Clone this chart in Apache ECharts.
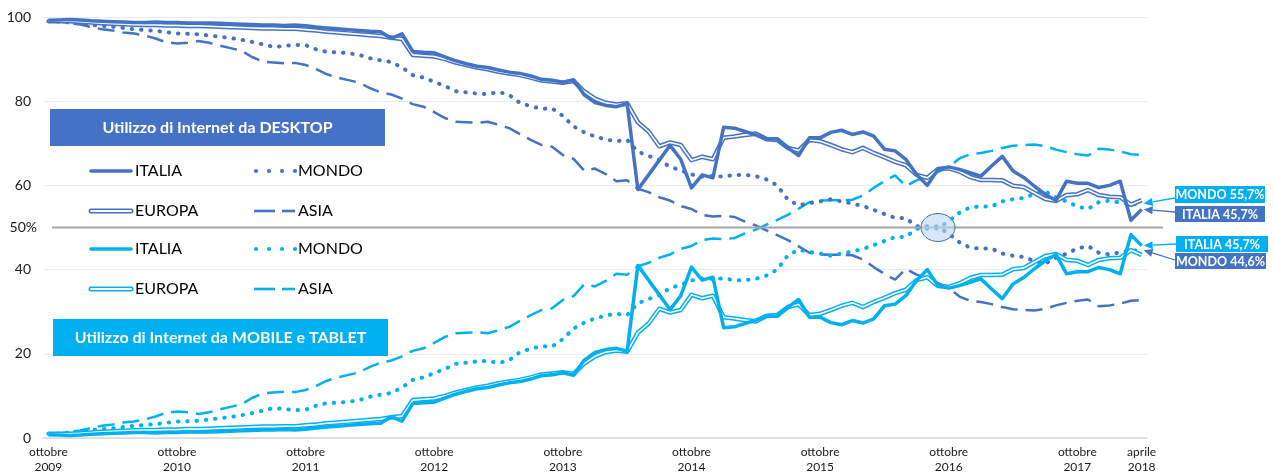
<!DOCTYPE html>
<html>
<head>
<meta charset="utf-8">
<script src="https://cdn.jsdelivr.net/npm/echarts@6/dist/echarts.min.js"></script>
<style>
html,body{margin:0;padding:0;background:#fff;}
#c{width:1273px;height:475px;}
</style>
</head>
<body>
<div id="c"></div>
<script>
// ---- categories (monthly, ottobre 2009 .. aprile 2018) ----
const monthNames = ['ottobre','novembre','dicembre','gennaio','febbraio','marzo','aprile','maggio','giugno','luglio','agosto','settembre'];
const categories = [];
for (let i = 0; i < 103; i++) {
  categories.push(monthNames[i % 12] + ' ' + (2009 + Math.floor((i + 9) / 12)));
}
const yTickLabels = [0, 20, 40, 60, 80, 100];
const midLabel = '50%';

// ---- DESKTOP share (%) ----
const desktopItalia = [99.2,99.3,99.4,99.3,99.1,99.0,98.9,98.8,98.7,98.7, 98.8,98.7,98.7,98.6,98.6,98.6,98.5,98.4,98.3,98.2, 98.1,98.1,98.0,98.1,97.9,97.6,97.4,97.2,97.0,96.8, 96.6,96.5,94.9,96.0,91.8,91.6,91.5,90.5,89.6,88.9, 88.3,88.0,87.4,86.9,86.6,86.0,85.2,85.0,84.5,85.1, 81.5,79.7,79.0,78.7,79.4,59.0,62.5,66.0,69.5,66.2, 59.4,62.5,61.8,73.8,73.6,72.8,72.0,71.0,71.1,68.9, 67.1,71.3,71.3,72.6,73.1,72.1,72.7,71.7,68.6,68.2, 66.2,62.6,60.0,63.8,64.4,63.8,63.0,62.2,64.6,66.9, 63.4,61.9,59.8,57.9,56.4,61.0,60.5,60.5,59.5,60.0, 61.0,51.7,54.3];
const desktopEuropa = [99.0,99.0,99.0,98.9,98.7,98.5,98.4,98.3,98.2,98.1, 98.1,98.0,98.0,97.9,97.9,97.8,97.7,97.6,97.5,97.4, 97.3,97.3,97.2,97.2,97.0,96.8,96.5,96.3,96.1,95.9, 95.7,95.5,95.1,94.8,91.0,90.8,90.6,90.0,89.2,88.6, 88.0,87.6,87.0,86.6,86.2,85.6,84.9,84.7,84.4,84.8, 82.3,80.6,79.6,79.2,79.5,75.0,72.8,69.3,70.2,69.6, 66.0,66.8,66.2,71.3,71.6,72.0,72.3,71.0,70.8,68.9, 68.3,70.8,70.5,69.6,68.6,67.9,68.9,67.7,66.7,65.6, 64.8,62.5,61.8,63.9,64.1,63.3,62.0,61.3,61.3,61.2, 59.9,59.6,58.2,56.8,56.3,57.7,57.9,58.9,57.7,57.3, 57.2,55.4,56.5];
const desktopMondo = [99.0,98.9,98.7,98.4,98.1,97.9,97.7,97.4,97.1,96.9, 96.7,96.4,96.1,96.0,95.9,95.6,95.3,95.0,94.6,94.1, 93.5,92.9,93.1,93.4,93.3,92.3,91.7,91.6,91.4,91.0, 90.2,89.7,89.3,88.0,86.2,85.6,84.6,83.6,82.4,82.1, 81.8,81.7,82.2,81.5,79.6,78.8,78.2,78.3,76.5,74.0, 72.6,71.6,70.9,70.5,70.8,68.0,67.0,66.0,64.4,63.6, 62.6,62.1,62.2,62.1,62.5,62.5,62.2,61.4,60.0,56.6, 55.3,55.8,56.2,56.7,56.2,55.7,55.1,54.2,53.2,52.3, 52.2,50.3,50.3,50.2,48.5,46.5,45.2,45.0,45.0,43.8, 43.3,43.0,42.0,41.4,42.8,43.8,45.0,45.6,44.0,43.6, 44.1,44.5,44.6];
const desktopAsia = [99.0,98.9,98.6,98.2,97.6,97.1,96.8,96.3,96.1,95.6, 94.9,94.0,93.7,93.9,94.3,93.9,93.2,92.6,92.0,90.5, 89.4,89.2,89.0,89.1,88.6,87.6,86.4,85.6,85.0,84.4, 83.1,82.1,81.6,80.6,79.3,78.7,77.4,76.0,75.1,75.0, 74.9,75.1,74.4,73.6,72.2,70.8,69.6,69.2,67.2,66.3, 63.5,64.0,62.7,61.0,61.2,59.2,58.4,57.2,56.4,55.1, 54.4,53.0,52.6,52.8,52.5,51.4,50.5,49.3,48.2,47.0, 45.5,44.0,43.6,43.5,43.5,43.4,42.4,40.6,39.0,37.6, 40.2,38.8,38.0,36.8,35.7,33.6,32.6,32.3,31.8,31.1, 30.6,30.4,30.3,30.7,31.5,32.1,32.6,32.9,31.3,31.5, 31.9,32.6,32.8];

// ---- MOBILE e TABLET share (%) ----
const mobileItalia = [0.8,0.7,0.6,0.7,0.9,1.0,1.1,1.2,1.3,1.3, 1.2,1.3,1.3,1.4,1.4,1.4,1.5,1.6,1.7,1.8, 1.9,1.9,2.0,1.9,2.1,2.4,2.6,2.8,3.0,3.2, 3.4,3.5,5.1,4.0,8.2,8.4,8.5,9.5,10.4,11.1, 11.7,12.0,12.6,13.1,13.4,14.0,14.8,15.0,15.5,14.9, 18.5,20.3,21.0,21.3,20.6,41.0,37.5,34.0,30.5,33.8, 40.6,37.5,38.2,26.2,26.4,27.2,28.0,29.0,28.9,31.1, 32.9,28.7,28.7,27.4,26.9,27.9,27.3,28.3,31.4,31.8, 33.8,37.4,40.0,36.2,35.6,36.2,37.0,37.8,35.4,33.1, 36.6,38.1,40.2,42.1,43.6,39.0,39.5,39.5,40.5,40.0, 39.0,48.3,45.7];
const mobileEuropa = [1.0,1.0,1.0,1.1,1.3,1.5,1.6,1.7,1.8,1.9, 1.9,2.0,2.0,2.1,2.1,2.2,2.3,2.4,2.5,2.6, 2.7,2.7,2.8,2.8,3.0,3.2,3.5,3.7,3.9,4.1, 4.3,4.5,4.9,5.2,9.0,9.2,9.4,10.0,10.8,11.4, 12.0,12.4,13.0,13.4,13.8,14.4,15.1,15.3,15.6,15.2, 17.7,19.4,20.4,20.8,20.5,25.0,27.2,30.7,29.8,30.4, 34.0,33.2,33.8,28.7,28.4,28.0,27.7,29.0,29.2,31.1, 31.7,29.2,29.5,30.4,31.4,32.1,31.1,32.3,33.3,34.4, 35.2,37.5,38.2,36.1,35.9,36.7,38.0,38.7,38.7,38.8, 40.1,40.4,41.8,43.2,43.7,42.3,42.1,41.1,42.3,42.7, 42.8,44.6,43.5];
const mobileMondo = [1.0,1.1,1.3,1.6,1.9,2.1,2.3,2.6,2.9,3.1, 3.3,3.6,3.9,4.0,4.1,4.4,4.7,5.0,5.4,5.9, 6.5,7.1,6.9,6.6,6.7,7.7,8.3,8.4,8.6,9.0, 9.8,10.3,10.7,12.0,13.8,14.4,15.4,16.4,17.6,17.9, 18.2,18.3,17.8,18.5,20.4,21.2,21.8,21.7,23.5,26.0, 27.4,28.4,29.1,29.5,29.2,32.0,33.0,34.0,35.6,36.4, 37.4,37.9,37.8,37.9,37.5,37.5,37.8,38.6,40.0,43.4, 44.7,44.2,43.8,43.3,43.8,44.3,44.9,45.8,46.8,47.7, 47.8,49.7,49.7,49.8,51.5,53.5,54.8,55.0,55.0,56.2, 56.7,57.0,58.0,58.6,57.2,56.2,55.0,54.4,56.0,56.4, 55.9,55.5,55.7];
const mobileAsia = [1.0,1.1,1.4,1.8,2.4,2.9,3.2,3.7,3.9,4.4, 5.1,6.0,6.3,6.1,5.7,6.1,6.8,7.4,8.0,9.5, 10.6,10.8,11.0,10.9,11.4,12.4,13.6,14.4,15.0,15.6, 16.9,17.9,18.4,19.4,20.7,21.3,22.6,24.0,24.9,25.0, 25.1,24.9,25.6,26.4,27.8,29.2,30.4,30.8,32.8,33.7, 36.5,36.0,37.3,39.0,38.8,40.8,41.6,42.8,43.6,44.9, 45.6,47.0,47.4,47.2,47.5,48.6,49.5,50.7,51.8,53.0, 54.5,56.0,56.4,56.5,56.5,56.6,57.6,59.4,61.0,62.4, 59.8,61.2,62.0,63.2,64.3,66.4,67.4,67.7,68.2,68.9, 69.4,69.6,69.7,69.3,68.5,67.9,67.4,67.1,68.7,68.5, 68.1,67.4,67.2];

// ---- texts ----
const titleDesktop = 'Utilizzo di Internet da DESKTOP';
const titleMobile = 'Utilizzo di Internet da MOBILE e TABLET';
const calloutTexts = ['MONDO 55,7%', 'ITALIA 45,7%', 'ITALIA 45,7%', 'MONDO 44,6%'];

const DESK = '#4472C4', MOB = '#00B0F0';
const FONT = 'Lato, "Open Sans", sans-serif';

function solid(name, data, color) {
  return { name, type: 'line', data, symbol: 'none', silent: true,
    lineStyle: { color, width: 3.5, join: 'round' } };
}
function dotted(name, data, color) {
  return { name, type: 'line', data, symbol: 'none', silent: true,
    lineStyle: { color, width: 4, type: [0.5, 8.8], cap: 'round' } };
}
function dashed(name, data, color) {
  return { name, type: 'line', data, symbol: 'none', silent: true,
    lineStyle: { color, width: 2.5, type: [17, 8] } };
}
function dbl(name, data, color) {
  return [
    { name, type: 'line', data, symbol: 'none', silent: true,
      lineStyle: { color, width: 4.6, join: 'round' } },
    { name: name + ' inner', type: 'line', data, symbol: 'none', silent: true,
      lineStyle: { color: '#ffffff', width: 1.6, join: 'round' } }
  ];
}

const option = {
  animation: false,
  backgroundColor: '#fff',
  grid: { left: 43, right: 126, top: 17, bottom: 37, containLabel: false },
  xAxis: {
    type: 'category', data: categories, boundaryGap: true,
    axisTick: { show: false },
    axisLine: { lineStyle: { color: '#d9d9d9', width: 1.5 } },
    axisLabel: {
      interval: (idx) => idx % 12 === 0 || idx === categories.length - 1,
      formatter: (v) => v.replace(' ', '\n'),
      fontSize: 12, lineHeight: 15, color: '#1a1a1a', margin: 7, fontFamily: FONT
    },
    splitLine: { show: false }
  },
  yAxis: {
    type: 'value', min: 0, max: 100, interval: 20,
    axisLine: { show: false }, axisTick: { show: false },
    axisLabel: { fontSize: 14, color: '#1a1a1a', margin: 12, fontFamily: FONT,
      formatter: (v) => yTickLabels.indexOf(v) >= 0 ? String(v) : '' },
    splitLine: { lineStyle: { color: '#ebebeb', width: 1 } }
  },
  series: [
    dashed('ASIA desktop', desktopAsia, DESK),
    dashed('ASIA mobile', mobileAsia, MOB),
    dotted('MONDO desktop', desktopMondo, DESK),
    dotted('MONDO mobile', mobileMondo, MOB),
    ...dbl('EUROPA desktop', desktopEuropa, DESK),
    ...dbl('EUROPA mobile', mobileEuropa, MOB),
    solid('ITALIA desktop', desktopItalia, DESK),
    solid('ITALIA mobile', mobileItalia, MOB)
  ]
};

const chart = echarts.init(document.getElementById('c'), null, { renderer: 'canvas' });
chart.setOption(option);

const px = (i, v) => chart.convertToPixel({ gridIndex: 0 }, [i, v]);
const last = categories.length - 1;
const g = [];

// 50% reference line and label
const y50 = px(0, 50)[1];
g.push({ type: 'line', z: 5, shape: { x1: 52, y1: y50, x2: 1163, y2: y50 },
  style: { stroke: '#a6a6a6', lineWidth: 2 } });
g.push({ type: 'text', z: 5, x: 37, y: y50,
  style: { text: midLabel, font: '14px ' + FONT, fill: '#1a1a1a', align: 'right', verticalAlign: 'middle' } });

// title boxes
function titleBox(x, y, w, h, fill, text) {
  g.push({ type: 'rect', z: 20, shape: { x, y, width: w, height: h }, style: { fill } });
  g.push({ type: 'text', z: 21, x: x + w / 2, y: y + h / 2,
    style: { text, font: 'bold 16px ' + FONT, fill: '#fff', align: 'center', verticalAlign: 'middle' } });
}
titleBox(50, 109, 335, 37, DESK, titleDesktop);
titleBox(53, 319, 335, 37, MOB, titleMobile);

// custom legend
function sample(kind, x1, x2, y, color) {
  if (kind === 'solid') {
    g.push({ type: 'line', z: 20, shape: { x1, y1: y, x2, y2: y }, style: { stroke: color, lineWidth: 3.6, lineCap: 'round' } });
  } else if (kind === 'double') {
    g.push({ type: 'line', z: 20, shape: { x1, y1: y, x2, y2: y }, style: { stroke: color, lineWidth: 5, lineCap: 'round' } });
    g.push({ type: 'line', z: 21, shape: { x1, y1: y, x2, y2: y }, style: { stroke: '#fff', lineWidth: 1.8, lineCap: 'round' } });
  } else if (kind === 'dot') {
    for (let k = 0; k < 4; k++) {
      g.push({ type: 'circle', z: 20, shape: { cx: x1 + 2 + k * 13, cy: y, r: 2.1 }, style: { fill: color } });
    }
  } else if (kind === 'dash') {
    g.push({ type: 'line', z: 20, shape: { x1, y1: y, x2: x1 + 21, y2: y }, style: { stroke: color, lineWidth: 2.6 } });
    g.push({ type: 'line', z: 20, shape: { x1: x1 + 28, y1: y, x2: x2, y2: y }, style: { stroke: color, lineWidth: 2.6 } });
  }
}
const legendRows = [
  { y: 171, color: DESK, a: ['ITALIA', 'solid'], b: ['MONDO', 'dot'] },
  { y: 211, color: DESK, a: ['EUROPA', 'double'], b: ['ASIA', 'dash'] },
  { y: 249, color: MOB, a: ['ITALIA', 'solid'], b: ['MONDO', 'dot'] },
  { y: 289, color: MOB, a: ['EUROPA', 'double'], b: ['ASIA', 'dash'] }
];
legendRows.forEach(r => {
  sample(r.a[1], 91, 131, r.y, r.color);
  g.push({ type: 'text', z: 20, x: 135, y: r.y,
    style: { text: r.a[0], font: '16px ' + FONT, fill: '#000', align: 'left', verticalAlign: 'middle' } });
  sample(r.b[1], 254, 295, r.y, r.color);
  g.push({ type: 'text', z: 20, x: 298, y: r.y,
    style: { text: r.b[0], font: '16px ' + FONT, fill: '#000', align: 'left', verticalAlign: 'middle' } });
});

// ellipse around the crossing point
const ec = px(83, 50);
g.push({ type: 'ellipse', z: 30, shape: { cx: ec[0], cy: ec[1], rx: 17, ry: 14 },
  style: { fill: 'rgba(189,215,238,0.6)', stroke: '#41719C', lineWidth: 1 } });

// callouts with arrows pointing to the last data points
const callouts = [
  { box: [1175, 186, 90, 17], fill: MOB, text: calloutTexts[0], from: 198, data: mobileMondo },
  { box: [1175, 206, 90, 16], fill: DESK, text: calloutTexts[1], from: 212, data: desktopItalia },
  { box: [1176, 236, 92, 16], fill: MOB, text: calloutTexts[2], from: 244, data: mobileItalia },
  { box: [1175, 253, 91, 16], fill: DESK, text: calloutTexts[3], from: 260, data: desktopMondo }
];
callouts.forEach(c => {
  const [bx, by, bw, bh] = c.box;
  g.push({ type: 'rect', z: 20, shape: { x: bx, y: by, width: bw, height: bh }, style: { fill: c.fill } });
  g.push({ type: 'text', z: 21, x: bx + bw / 2, y: by + bh / 2 + 0.5,
    style: { text: c.text, font: 'bold 12.5px ' + FONT, fill: '#fff', align: 'center', verticalAlign: 'middle' } });
  const tip = px(last, c.data[last]);
  const tx = tip[0] + 2, ty = tip[1];
  const sx = bx, sy = c.from;
  const dx = tx - sx, dy = ty - sy, len = Math.sqrt(dx * dx + dy * dy);
  const ux = dx / len, uy = dy / len;
  const hl = 9, hw = 4;
  const bxp = tx - ux * hl, byp = ty - uy * hl;
  g.push({ type: 'line', z: 20, shape: { x1: sx, y1: sy, x2: bxp, y2: byp }, style: { stroke: c.fill, lineWidth: 1.3 } });
  g.push({ type: 'polygon', z: 20, shape: { points: [[tx, ty], [bxp - uy * hw, byp + ux * hw], [bxp + uy * hw, byp - ux * hw]] },
    style: { fill: c.fill } });
});

chart.setOption({ graphic: { elements: g } });
</script>
</body>
</html>
